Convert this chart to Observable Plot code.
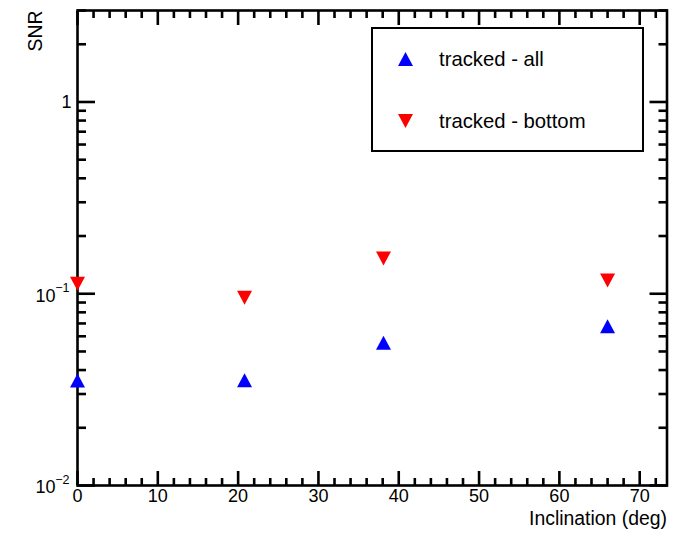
<!DOCTYPE html>
<html>
<head>
<meta charset="utf-8">
<script src="https://cdn.jsdelivr.net/npm/d3@7"></script>
<script src="https://cdn.jsdelivr.net/npm/@observablehq/plot@0.6"></script>
<style>
  html, body { margin: 0; padding: 0; background: #fff; }
  #wrap { position: relative; width: 685px; height: 536px; font-family: "Liberation Sans", Arial, sans-serif; }
  #legend { position: absolute; left: 371px; top: 27px; width: 273px; height: 125px; box-sizing: border-box;
            border: 2.6px solid #000; background: #fff; }
  .entry { position: absolute; left: 0; height: 24px; display: flex; align-items: center; font-size: 20.3px; color: #000; }
  .entry svg { position: absolute; left: 25px; }
  .entry span { position: absolute; left: 66px; white-space: nowrap; }
</style>
</head>
<body>
<div id="wrap">
  <div id="chart"></div>
  <div id="legend"></div>
</div>
<script>
// ---- data ----
const inclination = [0, 20.8, 38.1, 66.0];
const snrAll      = [0.0353, 0.0354, 0.0556, 0.0677];
const snrBottom   = [0.1128, 0.0954, 0.1528, 0.1173];
const seriesNames = ["tracked - all", "tracked - bottom"];
const seriesColors = ["#0000ff", "#ff0000"];

// ---- ticks ----
const xMajor = [0, 10, 20, 30, 40, 50, 60, 70];
const xMinor = [2, 4, 6, 8, 12, 14, 16, 18, 22, 24, 26, 28, 32, 34, 36, 38, 42, 44, 46, 48, 52, 54, 56, 58, 62, 64, 66, 68, 72];
const yMajor = [0.01, 0.1, 1];
const yMinor = [0.02, 0.03, 0.04, 0.05, 0.06, 0.07, 0.08, 0.09, 0.2, 0.3, 0.4, 0.5, 0.6, 0.7, 0.8, 0.9, 2, 3];
const yPowTicks = [0.01, 0.1];          // labelled as 10^n
const yPowExp = {0.01: "\u22122", 0.1: "\u22121"};
const yPlainTicks = [1];                // labelled plainly

const allData = inclination.map((x, i) => ({x, y: snrAll[i]}));
const bottomData = inclination.map((x, i) => ({x, y: snrBottom[i]}));

// custom triangle symbols (bounding-box centred)
const triUp = {draw(ctx, size) { const h = Math.sqrt(size / Math.PI); const w = h * 1.07;
  ctx.moveTo(0, -h); ctx.lineTo(w, h); ctx.lineTo(-w, h); ctx.closePath(); }};
const triDown = {draw(ctx, size) { const h = Math.sqrt(size / Math.PI); const w = h * 1.07;
  ctx.moveTo(0, h); ctx.lineTo(w, -h); ctx.lineTo(-w, -h); ctx.closePath(); }};

const LW = 2.6;
const tickAxes = [];
for (const anchor of ["bottom", "top"]) {
  tickAxes.push(Plot.axisX({anchor, ticks: xMajor, tickSize: -14, tickFormat: () => "", strokeWidth: LW, label: null}));
  tickAxes.push(Plot.axisX({anchor, ticks: xMinor, tickSize: -7, tickFormat: () => "", strokeWidth: LW, label: null}));
}
for (const anchor of ["left", "right"]) {
  tickAxes.push(Plot.axisY({anchor, ticks: yMajor, tickSize: -18, tickFormat: () => "", strokeWidth: LW, label: null}));
  tickAxes.push(Plot.axisY({anchor, ticks: yMinor, tickSize: -9, tickFormat: () => "", strokeWidth: LW, label: null}));
}

const chart = Plot.plot({
  width: 685, height: 536,
  marginLeft: 77, marginRight: 18.5, marginTop: 10, marginBottom: 51,
  style: {fontFamily: "Liberation Sans, Arial, sans-serif", background: "#fff", color: "#000"},
  x: {domain: [0, 73.4]},
  y: {type: "log", domain: [0.01, 3]},
  marks: [
    ...tickAxes,
    Plot.axisX({anchor: "bottom", ticks: xMajor, tickSize: 0, tickPadding: 4, fontSize: 18, label: null}),
    Plot.axisY({anchor: "left", ticks: yPlainTicks, tickSize: 0, tickPadding: 6, fontSize: 18, label: null, tickFormat: d => String(d)}),
    Plot.axisY({anchor: "left", ticks: yPowTicks, tickSize: 0, tickPadding: 22, fontSize: 18, label: null, tickFormat: () => "10", dy: 2}),
    Plot.axisY({anchor: "left", ticks: yPowTicks, tickSize: 0, tickPadding: 8, fontSize: 12.5, label: null, tickFormat: d => yPowExp[d], dy: -6}),
    Plot.text(["Inclination (deg)"], {frameAnchor: "bottom-right", textAnchor: "end", dy: 39, fontSize: 19.4}),
    Plot.text(["SNR"], {frameAnchor: "top-left", rotate: -90, textAnchor: "end", dx: -49, fontSize: 19.4}),
    Plot.frame({stroke: "#000", strokeWidth: LW}),
    Plot.dot(allData, {x: "x", y: "y", symbol: triUp, r: 7, fill: seriesColors[0], stroke: "none"}),
    Plot.dot(bottomData, {x: "x", y: "y", symbol: triDown, r: 7, fill: seriesColors[1], stroke: "none"})
  ]
});
document.getElementById("chart").appendChild(chart);

// legend (inside the frame, as in the reference)
const legend = document.getElementById("legend");
const rows = [[seriesNames[0], seriesColors[0], "up", 18], [seriesNames[1], seriesColors[1], "down", 80]];
for (const [name, color, dir, top] of rows) {
  const e = document.createElement("div");
  e.className = "entry";
  e.style.top = top + "px";
  const pts = dir === "up" ? "7.5,0 15,14 0,14" : "0,0 15,0 7.5,14";
  e.innerHTML = `<svg width="15" height="14" viewBox="0 0 15 14"><polygon points="${pts}" fill="${color}"/></svg><span></span>`;
  e.querySelector("span").textContent = name;
  legend.appendChild(e);
}
</script>
</body>
</html>
